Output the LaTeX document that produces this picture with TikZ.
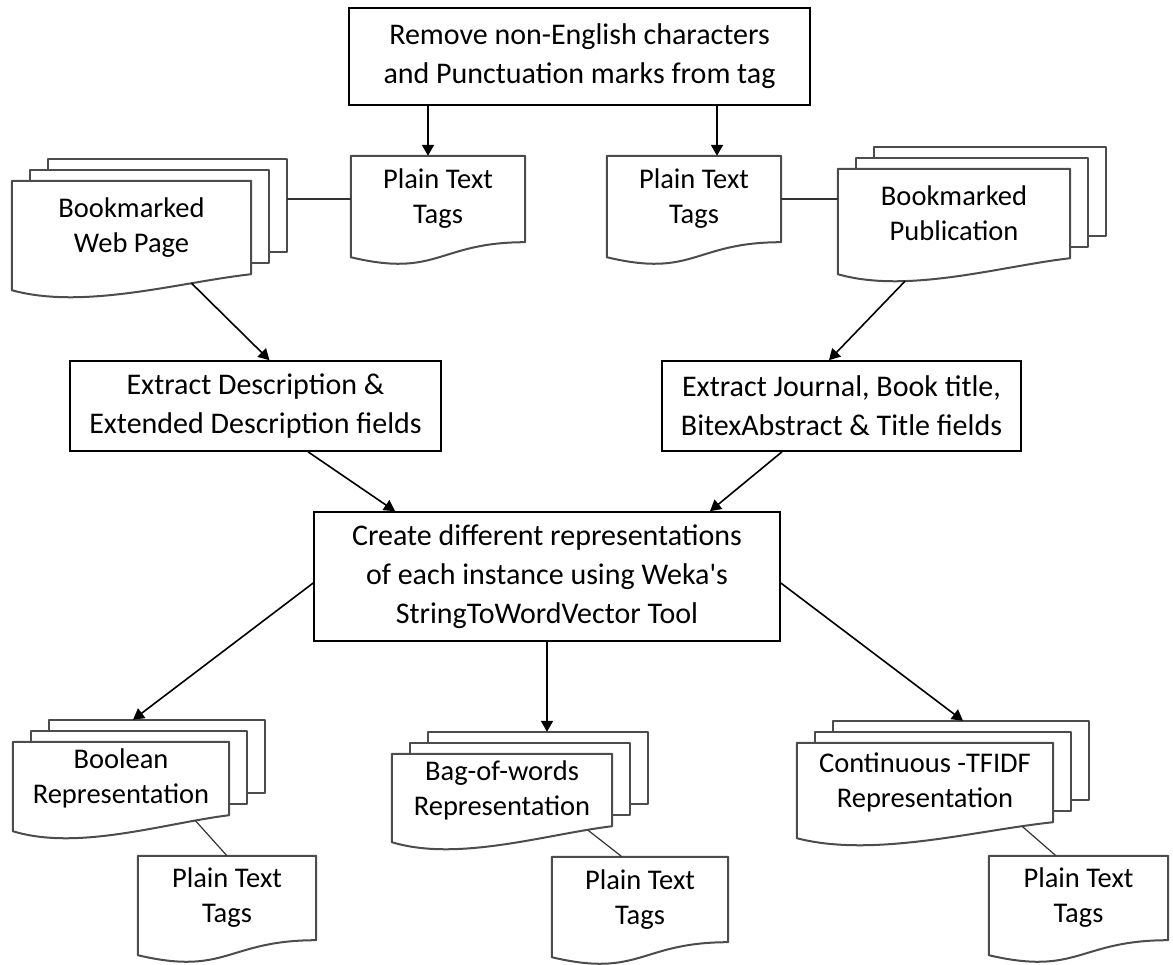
\documentclass[tikz,border=0pt]{standalone}
\usepackage{fontspec}
\setmainfont{Carlito}
\usetikzlibrary{arrows.meta,calc}

\tikzset{
  box/.style={draw, line width=1.6pt, align=center, inner sep=0pt,
    font=\fontsize{30}{39}\selectfont},
  doc/.style={align=center, inner sep=0pt, font=\fontsize{28.5}{35}\selectfont},
  docline/.style={line width=2pt, draw=black!70, line join=round},
  arrow/.style={->, line width=1.6pt},
  link/.style={line width=1.2pt, draw=black!80},
}

\begin{document}
\begin{tikzpicture}[x=1pt, y=-1pt, >={Triangle[length=11pt,width=12pt]}]
  \useasboundingbox (0,0) rectangle (1173,965);

  % process boxes
  \node[box, minimum width=461pt, minimum height=97pt] (remove) at (579.5,56.5)
    {Remove non-English characters\\and Punctuation marks from tag};
  \node[box, minimum width=371pt, minimum height=90pt] (desc) at (255.5,406)
    {Extract Description \&\\Extended Description fields};
  \node[box, minimum width=359pt, minimum height=90pt] (journal) at (841.5,406)
    {Extract Journal, Book title,\\BitexAbstract \& Title fields};
  \node[box, minimum width=466pt, minimum height=129pt] (create) at (547,576.5)
    {Create different representations\\of each instance using Weka\textquotesingle s\\StringToWordVector Tool};

  % single documents
  \node[doc, minimum width=174pt, minimum height=86pt] (tagsA) at (438,199) {Plain Text\\Tags};
  \node[doc, minimum width=174pt, minimum height=86pt] (tagsB) at (694,199) {Plain Text\\Tags};
  \node[doc, minimum width=178pt, minimum height=84pt] (tagsC) at (227,898) {Plain Text\\Tags};
  \node[doc, minimum width=176pt, minimum height=85pt] (tagsD) at (640,899.5) {Plain Text\\Tags};
  \node[doc, minimum width=179pt, minimum height=84pt] (tagsE) at (1078.5,898) {Plain Text\\Tags};

  % stacked documents (front sheet)
  \node[doc, minimum width=239pt, minimum height=93pt] (web) at (131.5,227.5) {Bookmarked\\Web Page};
  \node[doc, minimum width=232pt, minimum height=89pt] (pub) at (954,213.5) {Bookmarked\\Publication};
  \node[doc, minimum width=216pt, minimum height=73pt] (bool) at (121,778.5) {Boolean\\Representation};
  \node[doc, minimum width=220pt, minimum height=72pt] (bag) at (502,790) {Bag-of-words\\Representation};
  \node[doc, minimum width=256pt, minimum height=79pt] (cont) at (925,782.5) {Continuous -TFIDF\\Representation};

  % sheet outlines
  \foreach \n in {tagsA,tagsB,tagsC,tagsD,tagsE}
    \draw[docline] (\n.south east) -- (\n.north east) -- (\n.north west) -- (\n.south west)
      -- ++(0,15) .. controls ($(\n.south)+(0,36)$) and (\n.south) .. cycle;
  \foreach \n in {web,pub,bool,bag,cont}{
    \draw[docline] ($(\n.north west)+(36,-11)$) -- ++(0,-11) -- ($(\n.north east)+(36,-22)$)
      -- ($(\n.south east)+(36,-22)$) -- ++(-18,0);
    \draw[docline] ($(\n.north west)+(18,0)$) -- ++(0,-11) -- ($(\n.north east)+(18,-11)$)
      -- ($(\n.south east)+(18,-11)$) -- ++(-18,0);
    \draw[docline] (\n.south east) -- (\n.north east) -- (\n.north west) -- (\n.south west)
      -- ++(0,16) .. controls ($(\n.south west)!0.3!(\n.south east)+(0,36)$)
      and ($(\n.south west)!0.7!(\n.south east)+(0,8)$) .. cycle;
  }

  % connectors
  \coordinate (inA) at ([xshift=-10pt]tagsA.north);
  \coordinate (inB) at ([xshift=23pt]tagsB.north);
  \coordinate (webR) at ([xshift=36pt]web.east);
  \coordinate (bagT) at ([yshift=22pt]bag.north);

  \path[arrow]
    (remove.south -| inA) edge (inA)
    (remove.south -| inB) edge (inB)
    ([xshift=60pt,yshift=-9pt]web.south) edge ([xshift=14pt]desc.north)
    ([xshift=-49pt,yshift=-23pt]pub.south) edge ([xshift=-12.5pt]journal.north)
    ([xshift=52.5pt]desc.south) edge ([xshift=-152pt]create.north)
    ([xshift=-59.5pt]journal.south) edge ([xshift=163pt]create.north)
    ([yshift=-6.5pt]create.west) edge ([xshift=12pt,yshift=22pt]bool.north)
    (create.south) edge (create.south |- bagT)
    ([yshift=-6.5pt]create.east) edge ([xshift=38pt,yshift=22pt]cont.north);
  \path[link]
    (tagsA.west) edge (tagsA.west -| webR)
    (tagsB.east) edge (tagsB.east -| pub.west)
    ([xshift=74pt,yshift=-5pt]bool.south) edge (tagsC.north)
    ([xshift=86pt,yshift=-4pt]bag.south) edge ([xshift=-18pt]tagsD.north)
    ([xshift=97pt,yshift=-4pt]cont.south) edge ([xshift=-22.5pt]tagsE.north);
\end{tikzpicture}
\end{document}
